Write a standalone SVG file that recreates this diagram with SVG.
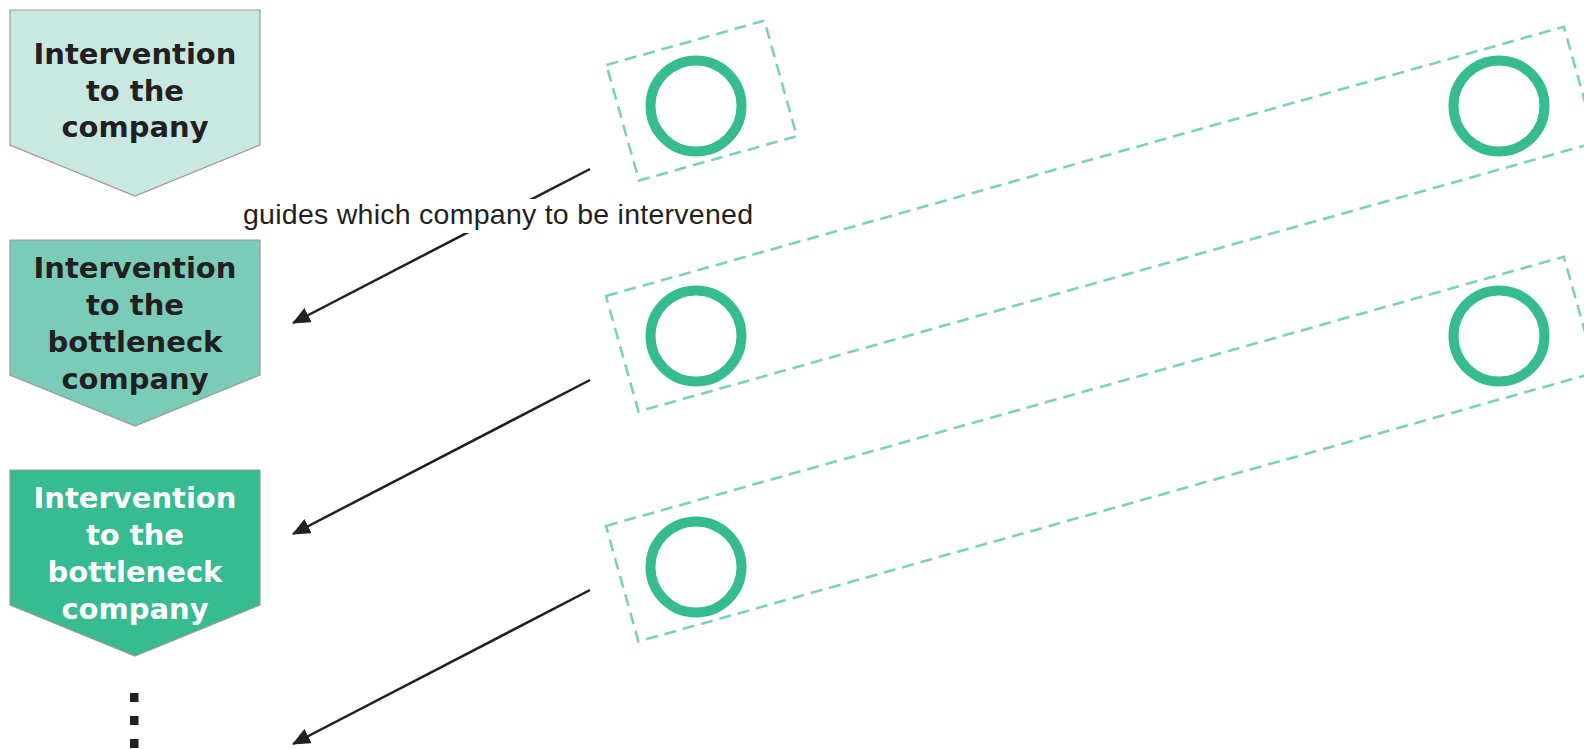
<svg xmlns="http://www.w3.org/2000/svg" width="1584" height="749" viewBox="0 0 1584 749">
<defs>
<style>
.box{stroke:#9a9a9a;stroke-width:1.2}
.bt{font-family:"DejaVu Sans",Verdana,sans-serif;font-weight:bold;font-size:29px;text-anchor:middle}
.dk{fill:#231f20}
.wt{fill:#ffffff}
.frame{fill:none;stroke:#7dd1b9;stroke-width:2.6;stroke-dasharray:12 7}
.ring{fill:none;stroke:#37bb91;stroke-width:10}
.conn{stroke:#231f20;stroke-width:2.5;fill:none}
.lbl{font-family:"Liberation Sans",Arial,sans-serif;font-size:28.5px;fill:#231f20}
</style>
<marker id="ah" markerWidth="18" markerHeight="16" refX="17" refY="8" orient="auto" markerUnits="userSpaceOnUse">
<path d="M0,0 L18,8 L0,16 Z" fill="#231f20"/>
</marker>
</defs>
<rect width="1584" height="749" fill="#ffffff"/>

<g id="step1">
<path class="box" d="M10,10 H260 V145 L135,196 L10,145 Z" fill="#c9e8e2"/>
<text class="bt dk" x="135" y="64">Intervention</text>
<text class="bt dk" x="135" y="100.5">to the</text>
<text class="bt dk" x="135" y="137">company</text>
</g>

<g id="step2">
<path class="box" d="M10,240 H260 V375 L135,426 L10,375 Z" fill="#7acbb8"/>
<text class="bt dk" x="135" y="278">Intervention</text>
<text class="bt dk" x="135" y="315">to the</text>
<text class="bt dk" x="135" y="352">bottleneck</text>
<text class="bt dk" x="135" y="388.5">company</text>
</g>

<g id="step3">
<path class="box" d="M10,470 H260 V605 L135,656 L10,605 Z" fill="#37bb91"/>
<text class="bt wt" x="135" y="508">Intervention</text>
<text class="bt wt" x="135" y="545">to the</text>
<text class="bt wt" x="135" y="582">bottleneck</text>
<text class="bt wt" x="135" y="618.5">company</text>
</g>

<g id="ellipsis" fill="#231f20">
<rect x="130" y="693" width="8.5" height="9"/>
<rect x="130" y="716" width="8.5" height="9"/>
<rect x="130" y="739" width="8.5" height="9"/>
</g>

<g id="group1">
<rect class="frame" x="0" y="0" width="164" height="120" transform="translate(606.5,65) rotate(-15.7)"/>
<circle class="ring" cx="696" cy="106" r="45.5"/>
</g>

<g id="group2">
<rect class="frame" x="0" y="0" width="995" height="120" transform="translate(606,296) rotate(-15.7)"/>
<circle class="ring" cx="696" cy="336" r="45.5"/>
<circle class="ring" cx="1499" cy="106" r="45.5"/>
</g>

<g id="group3">
<rect class="frame" x="0" y="0" width="995" height="120" transform="translate(606,526) rotate(-15.7)"/>
<circle class="ring" cx="696" cy="567" r="45.5"/>
<circle class="ring" cx="1499" cy="336" r="45.5"/>
</g>

<g id="connectors">
<line class="conn" x1="590" y1="169" x2="293" y2="323" marker-end="url(#ah)"/>
<line class="conn" x1="590" y1="380" x2="293" y2="534" marker-end="url(#ah)"/>
<line class="conn" x1="590" y1="590" x2="293" y2="744" marker-end="url(#ah)"/>
<rect x="240" y="199" width="518" height="34" fill="#ffffff"/>
<text class="lbl" x="243" y="224" textLength="510" lengthAdjust="spacing">guides which company to be intervened</text>
</g>
</svg>
